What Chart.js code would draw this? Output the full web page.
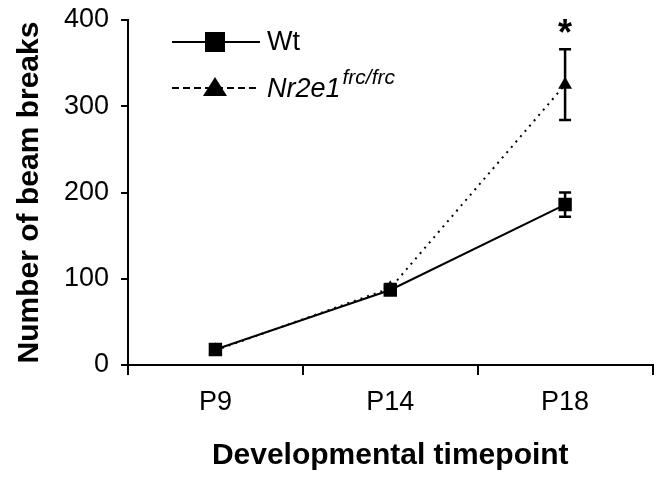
<!DOCTYPE html>
<html>
<head>
<meta charset="utf-8">
<script src="https://cdn.jsdelivr.net/npm/chart.js@4.4.1/dist/chart.umd.min.js"></script>
<style>
  body { margin: 0; background: #fff; }
  canvas { display: block; }
</style>
</head>
<body>
<canvas id="mycanvas" width="662" height="478"></canvas>
<script>
var timepoints = ['P9', 'P14', 'P18'];
var wtMean = [18, 87, 186];
var wtErr = [5, 5, 14];
var koMean = [17, 89, 325];
var koErr = [4, 5, 41];
var sigFlags = ['', '', '*'];

var FONT = "'Liberation Sans', Arial, sans-serif";

// error bars, drawn under the markers
var errorBars = {
    id: 'errorBars',
    beforeDatasetsDraw: function(chart){
        var ctx = chart.ctx;
        var y = chart.scales.y;
        ctx.save();
        ctx.strokeStyle = '#000';
        ctx.lineWidth = 2.5;
        chart.data.datasets.forEach(function(ds, k){
            var meta = chart.getDatasetMeta(k);
            ds.errors.forEach(function(e, i){
                var px = meta.data[i].x;
                var top = y.getPixelForValue(ds.data[i] + e);
                var bot = y.getPixelForValue(ds.data[i] - e);
                ctx.beginPath();
                ctx.moveTo(px, top); ctx.lineTo(px, bot);
                ctx.moveTo(px - 6, top); ctx.lineTo(px + 6, top);
                ctx.moveTo(px - 6, bot); ctx.lineTo(px + 6, bot);
                ctx.stroke();
            });
        });
        ctx.restore();
    },
    afterDatasetsDraw: function(chart){
        // significance star above the knockout error bar
        var ctx = chart.ctx;
        var y = chart.scales.y;
        var meta = chart.getDatasetMeta(1);
        ctx.save();
        ctx.fillStyle = '#000';
        ctx.font = 'bold 36px ' + FONT;
        ctx.textAlign = 'center';
        ctx.textBaseline = 'middle';
        sigFlags.forEach(function(s, i){
            if (!s) return;
            var top = y.getPixelForValue(koMean[i] + koErr[i]);
            ctx.fillText(s, meta.data[i].x, top - 14);
        });
        ctx.restore();
    }
};

// legend with line + marker, drawn inside the plot
var lineLegend = {
    id: 'lineLegend',
    afterDraw: function(chart){
        var ctx = chart.ctx;
        var a = chart.chartArea;
        var x0 = a.left + 44, x1 = a.left + 132, xm = a.left + 87;
        var y1 = a.top + 22, y2 = a.top + 68;
        ctx.save();
        ctx.strokeStyle = '#000';
        ctx.fillStyle = '#000';
        ctx.lineWidth = 2;

        ctx.beginPath();
        ctx.moveTo(x0, y1); ctx.lineTo(x1, y1);
        ctx.stroke();
        ctx.fillRect(xm - 10, y1 - 10, 20, 20);

        ctx.setLineDash([7, 4]);
        ctx.beginPath();
        ctx.moveTo(x0, y2); ctx.lineTo(x1, y2);
        ctx.stroke();
        ctx.setLineDash([]);
        ctx.beginPath();
        ctx.moveTo(xm, y2 - 11);
        ctx.lineTo(xm + 12, y2 + 8);
        ctx.lineTo(xm - 12, y2 + 8);
        ctx.closePath();
        ctx.fill();

        ctx.textBaseline = 'middle';
        ctx.textAlign = 'left';
        var tx = x1 + 7;
        ctx.font = '27px ' + FONT;
        ctx.fillText('Wt', tx, y1 + 1);
        ctx.font = 'italic 27px ' + FONT;
        ctx.fillText('Nr2e1', tx, y2 + 1);
        var w = ctx.measureText('Nr2e1').width;
        ctx.font = 'italic 21px ' + FONT;
        ctx.fillText('frc/frc', tx + w + 2, y2 - 10);
        ctx.restore();
    }
};

var chartdata = {
    labels: timepoints,
    datasets: [
        {
            label: 'Wt',
            data: wtMean,
            errors: wtErr,
            borderColor: '#000',
            backgroundColor: '#000',
            borderWidth: 2,
            pointStyle: 'rect',
            pointRadius: 9.5,
            pointBorderWidth: 0,
            tension: 0
        },
        {
            label: 'Nr2e1 frc/frc',
            data: koMean,
            errors: koErr,
            borderColor: '#000',
            backgroundColor: '#000',
            borderWidth: 2,
            borderDash: [2, 5],
            pointStyle: 'triangle',
            pointRadius: 8,
            pointBorderWidth: 0,
            tension: 0
        }
    ]
};

var tickFont = { family: FONT, size: 27 };
var titleFont = { family: FONT, size: 30, weight: 'bold' };

var ctx = document.getElementById('mycanvas');
var GenericGraph = new Chart(ctx, {
    type: 'line',
    data: chartdata,
    plugins: [errorBars, lineLegend],
    options: {
        responsive: false,
        animation: false,
        layout: { padding: { top: 20, right: 8, left: 0, bottom: 0 } },
        plugins: {
            legend: { display: false },
            tooltip: { enabled: false }
        },
        scales: {
            x: {
                offset: true,
                grid: { offset: true, drawOnChartArea: false, color: '#000', lineWidth: 2, tickLength: 10 },
                border: { color: '#000', width: 2 },
                ticks: { color: '#000', font: tickFont, padding: 11 },
                title: { display: true, text: 'Developmental timepoint', color: '#000', font: titleFont, padding: { top: 0, bottom: 4 } },
                afterFit: function(s){ s.height = 113; }
            },
            y: {
                min: 0,
                max: 400,
                grid: { drawOnChartArea: false, color: '#000', lineWidth: 2, tickLength: 7 },
                border: { color: '#000', width: 2 },
                ticks: { stepSize: 100, color: '#000', font: tickFont, padding: 12 },
                title: { display: true, text: 'Number of beam breaks', color: '#000', font: titleFont, padding: { top: 12, bottom: 0 } },
                afterFit: function(s){
                    s.width = 128;
                    s.paddingTop = 0;
                    s.paddingBottom = 0;
                }
            }
        }
    }
});
</script>
</body>
</html>
